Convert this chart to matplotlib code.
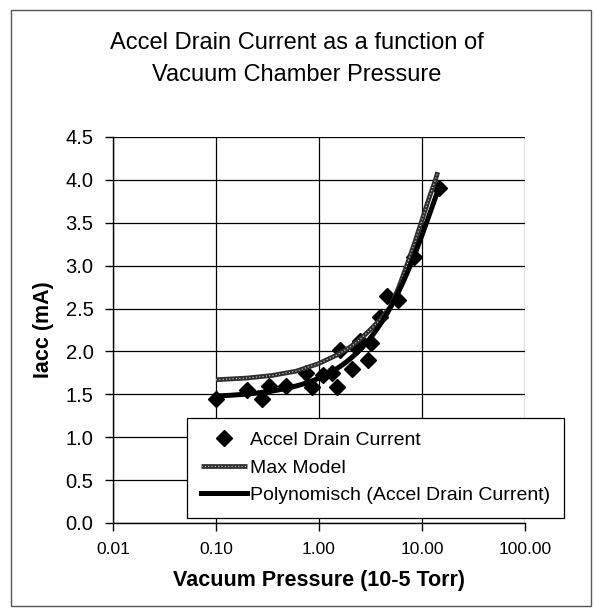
import numpy as np
import matplotlib
matplotlib.use("Agg")
import matplotlib.pyplot as plt
from matplotlib.patches import Rectangle
from matplotlib.ticker import FixedLocator, FixedFormatter, NullLocator

plt.rcParams['font.family'] = ['Liberation Sans', 'DejaVu Sans']

# Measured data: pressure (10^-5 Torr) and accel drain current (mA)
pressure = [0.10, 0.20, 0.28, 0.33, 0.48, 0.75, 0.85, 1.10, 1.35, 1.50, 1.60,
            2.10, 2.30, 2.50, 3.00, 3.20, 3.90, 4.60, 5.80, 8.40, 14.5]
current = [1.45, 1.55, 1.45, 1.60, 1.60, 1.75, 1.58, 1.72, 1.75, 1.58, 2.02,
           1.80, 2.05, 2.12, 1.90, 2.10, 2.40, 2.65, 2.60, 3.10, 3.90]

# Max Model curve
model_p = [0.1, 0.2, 0.35, 0.6, 1.0, 1.5, 2.0, 2.5, 3.0, 4.0, 5.0, 6.0,
           7.1, 8.5, 9.8, 11.5, 13.5, 14.2]
model_i = [1.67, 1.69, 1.72, 1.77, 1.86, 1.96, 2.05, 2.14, 2.23, 2.38, 2.53,
           2.76, 3.00, 3.27, 3.50, 3.76, 4.00, 4.09]

x_ticks = [0.01, 0.1, 1, 10, 100]
x_labels = ['0.01', '0.10', '1.00', '10.00', '100.00']
y_ticks = [0.0, 0.5, 1.0, 1.5, 2.0, 2.5, 3.0, 3.5, 4.0, 4.5]
y_labels = ['0.0', '0.5', '1.0', '1.5', '2.0', '2.5', '3.0', '3.5', '4.0', '4.5']

W, H = 594, 611
fig = plt.figure(figsize=(W / 100, H / 100), dpi=100)
ax = fig.add_axes([113 / W, 1 - 523 / H, (525 - 113) / W, (523 - 137) / H])

# Polynomial trendline (order 2, fitted in linear x like Excel)
coef = np.polyfit(pressure, current, 2)
px = np.logspace(np.log10(min(pressure)), np.log10(max(pressure)), 200)
py = np.polyval(coef, px)

h_pts, = ax.plot(pressure, current, linestyle='none', marker='D', color='black',
                 markersize=8.5, zorder=3)
h_mod_a, = ax.plot(model_p, model_i, color='#2e2e2e', lw=3.4, zorder=4,
                   solid_capstyle='butt')
h_mod_b, = ax.plot(model_p, model_i, color='#d8d8d8', lw=0.8,
                   linestyle=(0, (1, 2)), zorder=4.5)
h_poly, = ax.plot(px, py, color='black', lw=3.6, zorder=5)

ax.set_xscale('log')
ax.set_xlim(0.01, 100)
ax.set_ylim(0, 4.5)
ax.xaxis.set_major_locator(FixedLocator(x_ticks))
ax.xaxis.set_major_formatter(FixedFormatter(x_labels))
ax.xaxis.set_minor_locator(NullLocator())
ax.yaxis.set_major_locator(FixedLocator(y_ticks))
ax.yaxis.set_major_formatter(FixedFormatter(y_labels))
ax.grid(True, color='black', lw=0.9)
ax.set_axisbelow(True)
for s in ['top', 'right']:
    ax.spines[s].set_visible(False)
for s in ['left', 'bottom']:
    ax.spines[s].set_linewidth(1.0)
ax.tick_params(axis='both', direction='out', length=6, width=1.0, colors='black')
ax.tick_params(axis='x', labelsize=12.5, pad=8)
ax.tick_params(axis='y', labelsize=14.5, pad=8)

ax.set_xlabel('Vacuum Pressure (10-5 Torr)', fontsize=15.5, fontweight='bold', labelpad=9)
ax.set_ylabel('Iacc (mA)', fontsize=15.5, fontweight='bold', labelpad=8)

fig.text(0.5, 1 - 43 / H, 'Accel Drain Current as a function of', ha='center',
         va='center', fontsize=17)
fig.text(0.5, 1 - 75 / H, 'Vacuum Chamber Pressure', ha='center',
         va='center', fontsize=17)

leg = fig.legend([h_pts, (h_mod_a, h_mod_b), h_poly],
                 ['Accel Drain Current', 'Max Model', 'Polynomisch (Accel Drain Current)'],
                 loc='upper left', bbox_to_anchor=(187 / W, 1 - 418 / H),
                 fontsize=14, frameon=True, fancybox=False, framealpha=1,
                 edgecolor='black', handlelength=2.4, handletextpad=0.15,
                 labelspacing=0.5, borderpad=0.7, borderaxespad=0)
leg.get_frame().set_linewidth(0.9)

fig.patches.append(Rectangle((11 / W, 1 - 606 / H), (591 - 11) / W, (606 - 10) / H,
                             transform=fig.transFigure, fill=False,
                             edgecolor='#555555', lw=1.0))

fig.savefig('out.png', dpi=100)
